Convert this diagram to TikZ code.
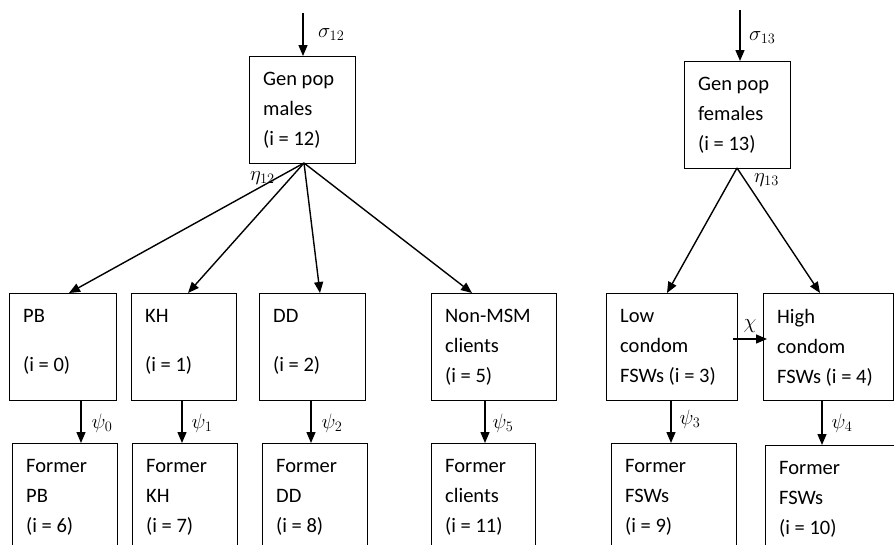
\documentclass[tikz,border=0pt]{standalone}
\usepackage{fontspec}
\setmainfont{Carlito}
\usetikzlibrary{arrows.meta}

\begin{document}
\begin{tikzpicture}[x=1pt, y=-1pt,
    comp/.style={draw, line width=0.9pt, minimum height=107pt, inner sep=0pt, outer sep=0pt, anchor=north west},
    txt/.style={anchor=north west, align=left, inner sep=0pt, xshift=14pt, yshift=-16pt,
        font=\fontsize{20.5}{30}\selectfont},
    flow/.style={-{Triangle[length=11pt,width=9pt]}, line width=1.4pt},
    rate/.style={font=\fontsize{21}{24}\selectfont, inner sep=2pt}]
    \useasboundingbox (0,0) rectangle (894,544);
    \clip (0,0) rectangle (894,544);

    % General population (top)
    \node[comp, minimum width=106pt, label={[txt]north west:Gen pop\\males\\(i = 12)}] (gm) at (249,56) {};
    \node[comp, minimum width=106pt, label={[txt]north west:Gen pop\\females\\(i = 13)}] (gf) at (684,61) {};

    % Current groups (middle row)
    \node[comp, minimum width=107pt, label={[txt]north west:PB\\[19pt](i = 0)}] (pb) at (9,293) {};
    \node[comp, minimum width=105pt, label={[txt]north west:KH\\[19pt](i = 1)}] (kh) at (131,293) {};
    \node[comp, minimum width=106pt, label={[txt]north west:DD\\[19pt](i = 2)}] (dd) at (259,293) {};
    \node[comp, minimum width=125pt, label={[txt]north west:Non-MSM\\clients\\(i = 5)}] (nm) at (431,293) {};
    \node[comp, minimum width=131pt, label={[txt]north west:Low\\condom\\FSWs (i = 3)}] (lc) at (606,293) {};
    \node[comp, minimum width=130pt, label={[txt]north west:High\\condom\\FSWs (i = 4)}] (hc) at (763,293) {};

    % Former groups (bottom row)
    \node[comp, minimum width=105pt, label={[txt]north west:Former\\PB\\(i = 6)}] (fpb) at (12,443) {};
    \node[comp, minimum width=105pt, label={[txt]north west:Former\\KH\\(i = 7)}] (fkh) at (132,443) {};
    \node[comp, minimum width=105pt, label={[txt]north west:Former\\DD\\(i = 8)}] (fdd) at (262,443) {};
    \node[comp, minimum width=104pt, label={[txt]north west:Former\\clients\\(i = 11)}] (fcl) at (431,443) {};
    \node[comp, minimum width=125pt, label={[txt]north west:Former\\FSWs\\(i = 9)}] (ff9) at (611,443) {};
    \node[comp, minimum width=131pt, label={[txt]north west:Former\\FSWs\\(i = 10)}] (ff10) at (765,445) {};

    % Entry into the population
    \coordinate (s12) at (303,13);
    \coordinate (s13) at (740,10);
    \draw[flow] (s12) -- (s12 |- gm.north);
    \draw[flow] (s13) -- (s13 |- gf.north);
    \node[rate, anchor=base west] (sig12) at (316,37) {$\sigma_{12}$};
    \node[rate, anchor=base west] (sig13) at (747,40) {$\sigma_{13}$};

    % Splitting into groups
    \draw[flow] ([xshift=2pt]gm.south) -- ([xshift=6.5pt]pb.north);
    \draw[flow] ([xshift=2pt]gm.south) -- ([xshift=4.5pt]kh.north);
    \draw[flow] ([xshift=2pt]gm.south) -- ([xshift=8pt]dd.north);
    \draw[flow] ([xshift=2pt]gm.south) -- ([xshift=-21.5pt]nm.north);
    \draw[flow] (gf.south) -- ([xshift=-4.5pt]lc.north);
    \draw[flow] (gf.south) -- ([xshift=-8pt]hc.north);
    \node[rate, anchor=north east] (eta12) at (277,169) {$\eta_{12}$};
    \node[rate, anchor=north west] (eta13) at (752,171) {$\eta_{13}$};

    % Leaving the groups
    \draw[flow] ([xshift=18.5pt]pb.south) -- ([xshift=18.5pt]pb.south |- fpb.north) node[rate, midway, anchor=west, xshift=8pt, yshift=-2pt] (psi0) {$\psi_0$};
    \draw[flow] ([xshift=-1.5pt]kh.south) -- ([xshift=-1.5pt]kh.south |- fkh.north) node[rate, midway, anchor=west, xshift=7pt, yshift=-2pt] (psi1) {$\psi_1$};
    \draw[flow] ([xshift=-1pt]dd.south) -- ([xshift=-1pt]dd.south |- fdd.north) node[rate, midway, anchor=west, xshift=8pt, yshift=-2pt] (psi2) {$\psi_2$};
    \draw[flow] ([xshift=-8.5pt]nm.south) -- ([xshift=-8.5pt]nm.south |- fcl.north) node[rate, midway, anchor=west, xshift=5pt, yshift=-2pt] (psi5) {$\psi_5$};
    \draw[flow] ([xshift=-0.5pt]lc.south) -- ([xshift=-0.5pt]lc.south |- ff9.north) node[rate, midway, anchor=west, xshift=6pt, yshift=2pt] (psi3) {$\psi_3$};
    \draw[flow] ([xshift=-6pt]hc.south) -- ([xshift=-6pt]hc.south |- ff10.north) node[rate, midway, anchor=west, xshift=7pt, yshift=-1pt] (psi4) {$\psi_4$};

    % Condom use change
    \draw[flow] ([xshift=-4pt, yshift=7.5pt]lc.east) -- ([xshift=4pt, yshift=7.5pt]hc.west) node[rate, midway, above, yshift=4pt] (chi) {$\chi$};
\end{tikzpicture}
\end{document}
